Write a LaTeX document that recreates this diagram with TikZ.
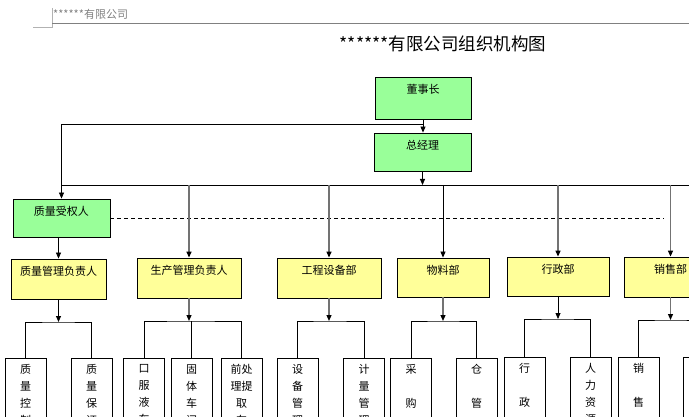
\documentclass[tikz,border=0pt]{standalone}
\usepackage{fontspec}
\newfontfamily\cjk{Noto Sans CJK SC}
\usetikzlibrary{arrows.meta}
\definecolor{lvse}{HTML}{99FF99}
\definecolor{huangse}{HTML}{FFFF99}
\definecolor{huise}{HTML}{808080}
\begin{document}
\begin{tikzpicture}[
  x=1pt, y=-1pt,
  font=\cjk\fontsize{11}{17}\selectfont,
  kuang/.style={rectangle, draw=black, line width=0.8pt, inner sep=0pt},
  lvkuang/.style={kuang, fill=lvse, minimum width=97pt, minimum height=38pt},
  huangkuang/.style={kuang, fill=huangse, minimum height=40pt},
  shukuang/.style={kuang, minimum width=41pt, minimum height=80pt},
  mingcheng/.style={label={[anchor=center, yshift=-12.5pt, inner sep=0pt]north:#1}},
  shuzi/.style={label={[anchor=north, yshift=-6.5pt, inner sep=0pt, align=center]north:#1}},
  xian/.style={draw=black, line width=0.8pt},
  huixian/.style={draw=black!55, line width=1.2pt},
  jiantou/.style={-{Triangle[length=6pt,width=5pt,color=black]}}
]
\useasboundingbox (0,0) rectangle (689,417);
\clip (0,0) rectangle (689,417);
% page header
\draw[black!30, line width=0.6pt] (52,8) -- (52,27) -- (33,27);
\draw[huise, line width=0.8pt] (52,23) -- (689,23);
\node[anchor=west, inner sep=0pt, text=huise, font=\cjk\fontsize{11}{12}\selectfont] (yemei) at (53,14) {******有限公司};
\node[inner sep=0pt, font=\cjk\fontsize{17.5}{20}\selectfont] (biaoti) at (443,44) {******有限公司组织机构图};
% top levels
\node[lvkuang, minimum width=96pt, minimum height=42pt, mingcheng=董事长] (dsz) at (423,98) {};
\node[lvkuang, mingcheng=总经理] (zjl) at (422.5,152) {};
\node[lvkuang, mingcheng=质量受权人] (zlsqr) at (61.5,218) {};
% departments
\node[huangkuang, minimum width=95pt, mingcheng=质量管理负责人] (zlgl) at (58.5,279) {};
\node[huangkuang, minimum width=104pt, mingcheng=生产管理负责人] (scgl) at (189,278) {};
\node[huangkuang, minimum width=104pt, mingcheng=工程设备部] (gcsb) at (329,278) {};
\node[huangkuang, minimum width=92pt, minimum height=39pt, mingcheng=物料部] (wlb) at (443,277.5) {};
\node[huangkuang, minimum width=102pt, minimum height=39pt, mingcheng=行政部] (xzb) at (558,276.5) {};
\node[huangkuang, minimum width=93pt, mingcheng=销售部] (xsb) at (670.5,277) {};
% sections
\node[shukuang, shuzi={质\\量\\控\\制}] (zlkz) at (25.5,398) {};
\node[shukuang, shuzi={质\\量\\保\\证}] (zlbz) at (91.5,398) {};
\node[shukuang, shuzi={口\\服\\液\\车}] (kfy) at (144,398) {};
\node[shukuang, shuzi={固\\体\\车\\间}] (gtcj) at (191.5,398) {};
\node[shukuang, shuzi={前处\\理提\\取\\车}] (qcl) at (241.5,398) {};
\node[shukuang, shuzi={设\\备\\管\\理}] (sbgl) at (297.5,398) {};
\node[shukuang, shuzi={计\\量\\管\\理}] (jlgl) at (364,398) {};
\node[shukuang, shuzi={采\\\mbox{}\\购}] (cg) at (411,398) {};
\node[shukuang, shuzi={仓\\\mbox{}\\管}] (cgl) at (476.5,398) {};
\node[shukuang, shuzi={行\\\mbox{}\\政}] (xz) at (524.5,397) {};
\node[shukuang, shuzi={人\\力\\资\\源}] (rlzy) at (590.5,397) {};
\node[shukuang, shuzi={销\\\mbox{}\\售}] (xs) at (638.5,397) {};
\node[shukuang] (xs2) at (703.5,397) {};
\coordinate (zong) at (0,185);
\coordinate (youbian) at (689,185);
\coordinate (xuxian) at (664,218);
\coordinate (g1) at (58.5,322);
\coordinate (g2) at (189,321);
\coordinate (g3) at (329,321);
\coordinate (g4) at (443,321);
\coordinate (g5) at (558,319);
\coordinate (g6) at (670.5,320);
% connectors
\draw[xian, jiantou] (dsz.south) -- (dsz.south |- zjl.north);
\draw[xian, jiantou] ([yshift=-5pt]dsz.south) -| (zlsqr.north);
\draw[xian, jiantou] (zjl.south) -- (zjl.south |- zong);
\draw[xian] (zlsqr.north |- zong) -- (youbian);
\draw[xian, dash pattern=on 4pt off 3pt] (zlsqr.east) -- (xuxian);
\draw[xian, jiantou] (zlgl.north |- zlsqr.south) -- (zlgl.north);
\draw[huixian, jiantou] (scgl.north |- zong) -- (scgl.north);
\draw[huixian, jiantou] (gcsb.north |- zong) -- (gcsb.north);
\draw[xian, jiantou] (wlb.north |- zong) -- (wlb.north);
\draw[huixian, jiantou] (xzb.north |- zong) -- (xzb.north);
\draw[huixian, jiantou] (xsb.north |- zong) -- (xsb.north);
\draw[xian, jiantou] (zlgl.south) -- (g1);
\draw[huixian, jiantou] (scgl.south) -- (g2);
\draw[huixian, jiantou] (gcsb.south) -- (g3);
\draw[huixian, jiantou] (wlb.south) -- (g4);
\draw[xian, jiantou] (xzb.south) -- (g5);
\draw[huixian, jiantou] (xsb.south) -- (g6);
\draw[xian] (zlkz.north) |- (g1) -| (zlbz.north);
\draw[xian] (kfy.north) |- (g2) -| (qcl.north);
\draw[xian] (gtcj.north) -- (gtcj.north |- g2);
\draw[xian] (sbgl.north) |- (g3) -| (jlgl.north);
\draw[xian] (cg.north) |- (g4) -| (cgl.north);
\draw[xian] (xz.north) |- (g5) -| (rlzy.north);
\draw[xian] (xs.north) |- (g6) -| (xs2.north);
\end{tikzpicture}
\end{document}
